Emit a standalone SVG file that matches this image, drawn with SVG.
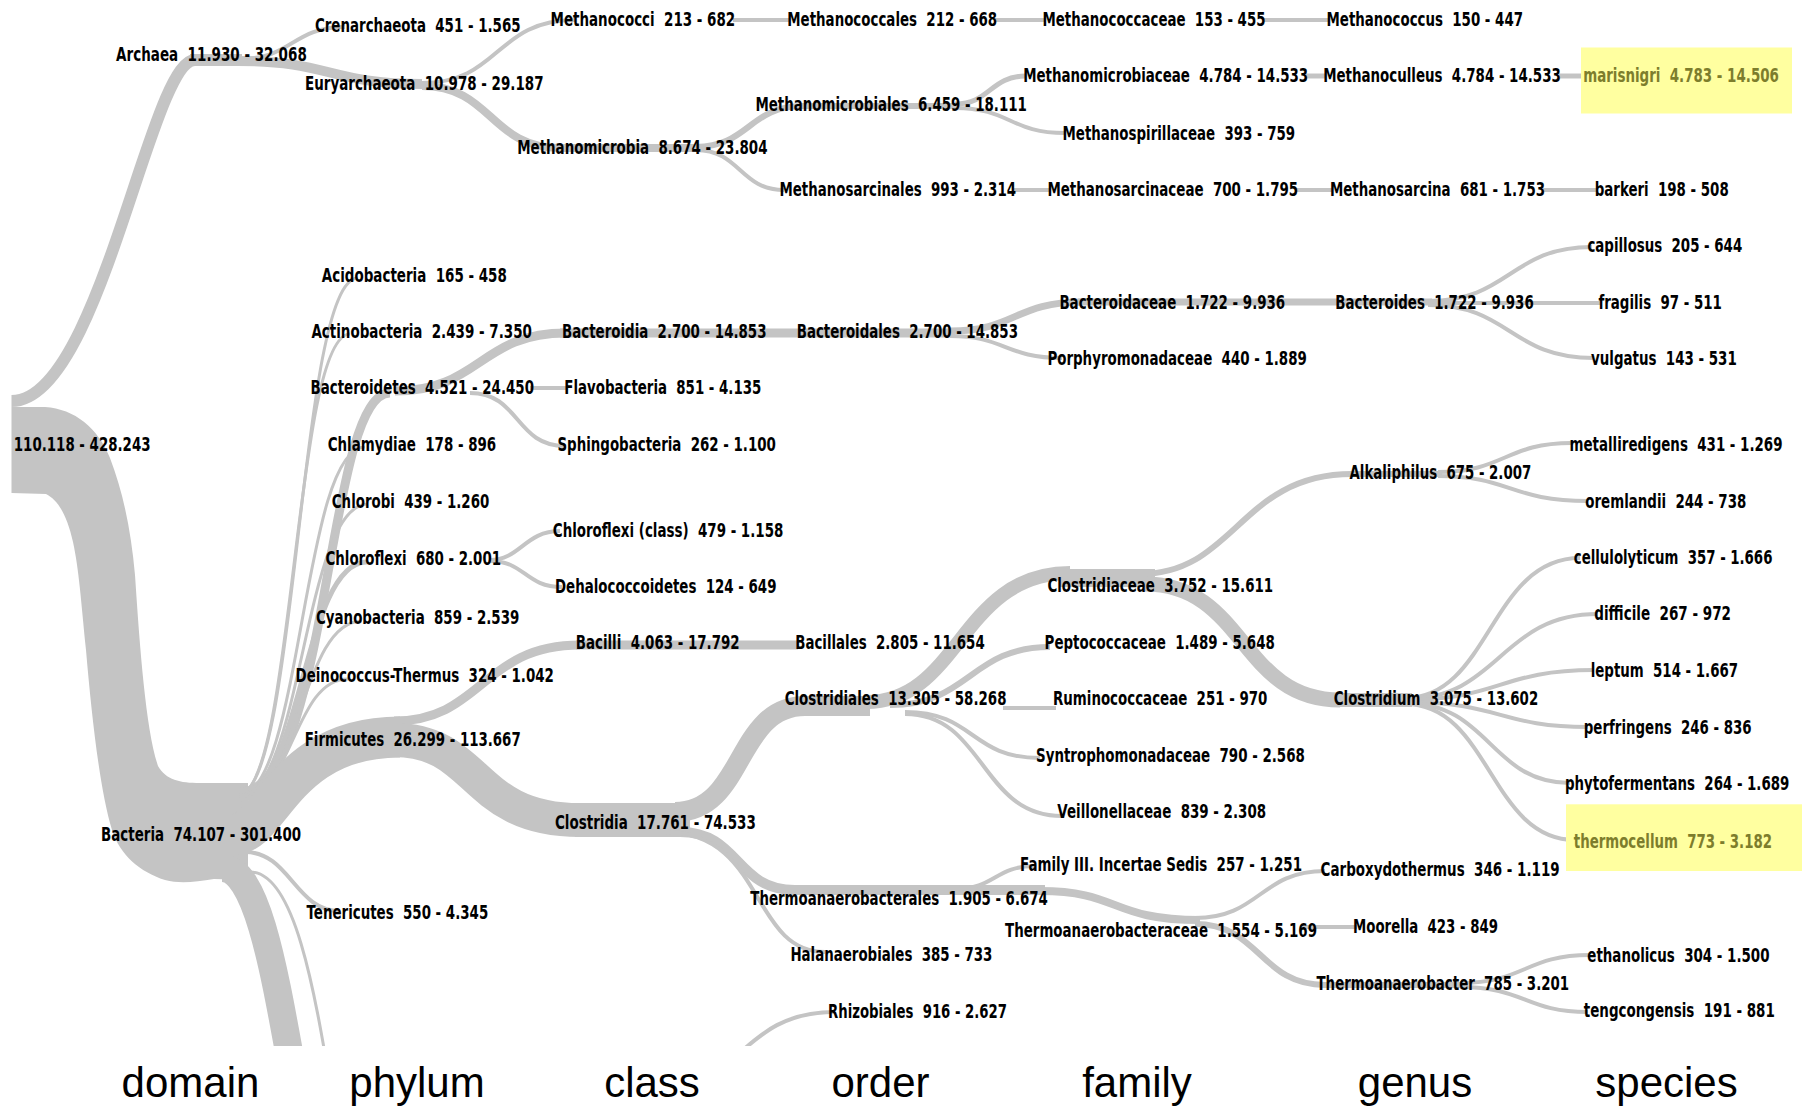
<svg xmlns="http://www.w3.org/2000/svg" width="1802" height="1107" viewBox="0 0 1802 1107">
<defs>
<clipPath id="clip"><rect x="0" y="0" width="1802" height="1046"/></clipPath>
<style>
.lk{fill:none;stroke:#c4c4c4;}
.fl{fill:#c4c4c4;stroke:none;}
.lb{font-family:"DejaVu Sans","DejaVu Sans Condensed",sans-serif;font-weight:bold;font-size:20px;fill:#000;}
.hl{fill:#7d7d2c;}
.box{fill:#ffffa0;}
.ax{font-family:"Liberation Sans",Arial,sans-serif;font-size:42px;fill:#000;text-anchor:middle;}
</style>
</defs>
<rect width="1802" height="1107" fill="#fff"/>
<g id="connectors" clip-path="url(#clip)">
<path class="fl" d="M11.5 407 L45 407 C75 409 98 428 110 458 C123 492 131 530 135 575 C140 650 146 730 158 766 C166 780 180 783 200 783 L248 783 L248 880 L214 879 C195 882 180 884 165 880 C140 872 120 855 112 830 C100 790 92 720 86 650 C81 600 79 570 73 542 C67 515 58 500 46 494 L11.5 493 Z"/>
<g class="lk">
<path d="M11.5 401 C100 401 150 60 195 60" stroke-width="12"/>
<path d="M190 60 L242 60" stroke-width="12"/>
<path d="M240 59 C292 59 292 27 345 27" stroke-width="4"/>
<path d="M238 61 C330 61 330 84 422 84" stroke-width="10"/>
<path d="M422 83 C500 83 495 20 575 20" stroke-width="4"/>
<path d="M422 86 C492 86 490 148 560 148" stroke-width="8"/>
<path d="M556 148 L700 148" stroke-width="8"/>
<path d="M696 147 C748 147 750 106 802 106" stroke-width="6"/>
<path d="M696 150 C740 150 740 190 784 190" stroke-width="4"/>
<path d="M800 106 L958 106" stroke-width="6"/>
<path d="M955 104 C990 104 990 76 1026 76" stroke-width="5"/>
<path d="M955 108 C1010 108 1010 133 1065 133" stroke-width="4"/>
<path d="M733 20 L790 20" stroke-width="4"/>
<path d="M995 20 L1045 20" stroke-width="4"/>
<path d="M1264 20 L1329 20" stroke-width="4"/>
<path d="M1306 76 L1326 76" stroke-width="5"/>
<path d="M1559 76 L1585 76" stroke-width="5"/>
<path d="M1014 190 L1050 190" stroke-width="4"/>
<path d="M1296 190 L1333 190" stroke-width="4"/>
<path d="M1543 190 L1597 190" stroke-width="4"/>

<path d="M238 795 C298 795 298 278 358 278" stroke-width="3"/>
<path d="M238 795 C294 795 294 334 350 334" stroke-width="3"/>
<path d="M240 792 C330 792 325 393 390 393" stroke-width="9"/>
<path d="M238 796 C302 796 302 447 365 447" stroke-width="3"/>
<path d="M238 797 C303 797 303 504 368 504" stroke-width="3"/>
<path d="M238 798 C302 798 302 562 367 562" stroke-width="5"/>
<path d="M238 799 C300 799 300 621 362 621" stroke-width="3"/>
<path d="M238 800 C293 800 293 679 348 679" stroke-width="3"/>
<path d="M232 835 C272 835 282 737 400 737" stroke-width="41"/>
<path d="M245 852 C290 852 295 911 340 911" stroke-width="4"/>
<path d="M222 868 C290 868 290 1250 360 1250" stroke-width="28"/>
<path d="M250 872 C330 872 330 1250 380 1250" stroke-width="3"/>

<path d="M395 391 C480 391 480 333 566 333" stroke-width="9"/>
<path d="M530 388 L568 388" stroke-width="4"/>
<path d="M470 393 C520 393 515 446 565 446" stroke-width="4"/>
<path d="M560 333 L955 333" stroke-width="9"/>
<path d="M950 331 C1015 331 1015 302 1082 302" stroke-width="7"/>
<path d="M950 336 C1005 336 1005 358 1062 358" stroke-width="4"/>
<path d="M1078 302 L1432 302" stroke-width="7"/>
<path d="M1428 301 C1510 301 1510 247 1592 247" stroke-width="4"/>
<path d="M1430 303 L1600 303" stroke-width="4"/>
<path d="M1428 305 C1510 305 1510 358 1594 358" stroke-width="4"/>

<path d="M490 560 C520 560 525 531 560 531" stroke-width="4"/>
<path d="M490 561 C525 561 525 587 562 587" stroke-width="4"/>

<path d="M394 721 C482 721 482 645 580 645" stroke-width="9"/>
<path d="M576 645 L798 645" stroke-width="9"/>
<path d="M394 740 C480 740 470 820 580 820" stroke-width="34"/>
<path d="M575 820 L690 820" stroke-width="34"/>
<path d="M675 812 C745 812 735 706 805 706" stroke-width="20"/>
<path d="M800 706 L870 706" stroke-width="20"/>
<path d="M866 702 C960 702 960 573 1070 573" stroke-width="14"/>
<path d="M1060 578 L1155 578" stroke-width="18"/>
<path d="M1140 574 C1235 574 1240 474 1352 474" stroke-width="6"/>
<path d="M1145 584 C1245 584 1240 700 1340 700" stroke-width="15"/>
<path d="M1336 700 L1412 700" stroke-width="14"/>
<path d="M1405 698 C1490 698 1490 558 1580 558" stroke-width="4"/>
<path d="M1405 699 C1500 699 1500 614 1598 614" stroke-width="4"/>
<path d="M1405 700 C1500 700 1500 670 1594 670" stroke-width="4"/>
<path d="M1405 702 C1500 702 1500 727 1588 727" stroke-width="4"/>
<path d="M1405 703 C1490 703 1490 783 1570 783" stroke-width="4"/>
<path d="M1405 704 C1490 704 1490 840 1575 840" stroke-width="4"/>
<path d="M1350 474 L1442 474" stroke-width="6"/>
<path d="M1438 472 C1505 472 1505 443 1572 443" stroke-width="4"/>
<path d="M1438 476 C1510 476 1510 501 1588 501" stroke-width="4"/>
<path d="M890 705 C970 705 970 647 1050 647" stroke-width="6"/>
<path d="M1003 708 L1056 708" stroke-width="4"/>
<path d="M905 712 C975 712 970 758 1040 758" stroke-width="4"/>
<path d="M905 714 C985 714 980 816 1062 816" stroke-width="4"/>

<path d="M680 832 C740 832 735 890 795 890" stroke-width="10"/>
<path d="M792 890 L1045 890" stroke-width="10"/>
<path d="M1040 891 C1120 891 1110 920 1200 920" stroke-width="8"/>
<path d="M955 889 C995 889 995 866 1035 866" stroke-width="4"/>
<path d="M1195 918 C1260 918 1260 871 1325 871" stroke-width="4"/>
<path d="M1300 927 L1357 927" stroke-width="4"/>
<path d="M1195 924 C1260 924 1260 985 1325 985" stroke-width="6"/>
<path d="M1320 985 L1465 985" stroke-width="6"/>
<path d="M1460 983 C1525 983 1525 955 1590 955" stroke-width="4"/>
<path d="M1460 987 C1525 987 1525 1012 1588 1012" stroke-width="4"/>
<path d="M665 832 C765 832 750 952 825 952" stroke-width="4"/>
<path d="M660 1090 C740 1090 740 1012 835 1012" stroke-width="4"/>
</g>
</g>

<g id="highlights">
<rect class="box" x="1581" y="47.5" width="211" height="66"/>
<rect class="box" x="1566" y="804.3" width="236" height="66.7"/>
</g>

<g id="nodes" class="lb">
<g id="n-root"><text x="13.8" y="450.5" textLength="136.7" lengthAdjust="spacingAndGlyphs">110.118 - 428.243</text></g>
<g id="n-archaea"><text x="116.1" y="61" textLength="190.7" lengthAdjust="spacingAndGlyphs">Archaea&#160; 11.930 - 32.068</text></g>
<g id="n-bacteria"><text x="101.1" y="841" textLength="200" lengthAdjust="spacingAndGlyphs">Bacteria&#160; 74.107 - 301.400</text></g>
<g id="n-crenarchaeota"><text x="314.9" y="32.3" textLength="205.7" lengthAdjust="spacingAndGlyphs">Crenarchaeota&#160; 451 - 1.565</text></g>
<g id="n-euryarchaeota"><text x="305" y="89.5" textLength="238.5" lengthAdjust="spacingAndGlyphs">Euryarchaeota&#160; 10.978 - 29.187</text></g>
<g id="n-acidobacteria"><text x="321.8" y="281.5" textLength="185" lengthAdjust="spacingAndGlyphs">Acidobacteria&#160; 165 - 458</text></g>
<g id="n-actinobacteria"><text x="311.4" y="337.5" textLength="220.5" lengthAdjust="spacingAndGlyphs">Actinobacteria&#160; 2.439 - 7.350</text></g>
<g id="n-bacteroidetes"><text x="310.5" y="394" textLength="223.5" lengthAdjust="spacingAndGlyphs">Bacteroidetes&#160; 4.521 - 24.450</text></g>
<g id="n-chlamydiae"><text x="327.7" y="450.5" textLength="168.5" lengthAdjust="spacingAndGlyphs">Chlamydiae&#160; 178 - 896</text></g>
<g id="n-chlorobi"><text x="331.8" y="508" textLength="157.5" lengthAdjust="spacingAndGlyphs">Chlorobi&#160; 439 - 1.260</text></g>
<g id="n-chloroflexi"><text x="325.5" y="565" textLength="175.5" lengthAdjust="spacingAndGlyphs">Chloroflexi&#160; 680 - 2.001</text></g>
<g id="n-cyanobacteria"><text x="316" y="624" textLength="203.3" lengthAdjust="spacingAndGlyphs">Cyanobacteria&#160; 859 - 2.539</text></g>
<g id="n-deinococcus"><text x="295.5" y="682.3" textLength="258.4" lengthAdjust="spacingAndGlyphs">Deinococcus-Thermus&#160; 324 - 1.042</text></g>
<g id="n-firmicutes"><text x="304.7" y="745.5" textLength="216" lengthAdjust="spacingAndGlyphs">Firmicutes&#160; 26.299 - 113.667</text></g>
<g id="n-tenericutes"><text x="306.5" y="919.2" textLength="181.7" lengthAdjust="spacingAndGlyphs">Tenericutes&#160; 550 - 4.345</text></g>
<g id="n-methanococci"><text x="550.5" y="26.4" textLength="184.7" lengthAdjust="spacingAndGlyphs">Methanococci&#160; 213 - 682</text></g>
<g id="n-methanomicrobia"><text x="517.2" y="154" textLength="250.3" lengthAdjust="spacingAndGlyphs">Methanomicrobia&#160; 8.674 - 23.804</text></g>
<g id="n-bacteroidia"><text x="562" y="337.8" textLength="204.5" lengthAdjust="spacingAndGlyphs">Bacteroidia&#160; 2.700 - 14.853</text></g>
<g id="n-flavobacteria"><text x="564.3" y="394" textLength="197" lengthAdjust="spacingAndGlyphs">Flavobacteria&#160; 851 - 4.135</text></g>
<g id="n-sphingobacteria"><text x="557.4" y="450.5" textLength="218.5" lengthAdjust="spacingAndGlyphs">Sphingobacteria&#160; 262 - 1.100</text></g>
<g id="n-chloroflexi-class"><text x="552.8" y="536.5" textLength="230.5" lengthAdjust="spacingAndGlyphs">Chloroflexi (class)&#160; 479 - 1.158</text></g>
<g id="n-dehalococcoidetes"><text x="555" y="592.5" textLength="221.5" lengthAdjust="spacingAndGlyphs">Dehalococcoidetes&#160; 124 - 649</text></g>
<g id="n-bacilli"><text x="575.7" y="649.3" textLength="164" lengthAdjust="spacingAndGlyphs">Bacilli&#160; 4.063 - 17.792</text></g>
<g id="n-clostridia"><text x="555" y="829" textLength="200.8" lengthAdjust="spacingAndGlyphs">Clostridia&#160; 17.761 - 74.533</text></g>
<g id="n-methanococcales"><text x="787.3" y="26.4" textLength="209.8" lengthAdjust="spacingAndGlyphs">Methanococcales&#160; 212 - 668</text></g>
<g id="n-methanomicrobiales"><text x="755.4" y="110.8" textLength="271.5" lengthAdjust="spacingAndGlyphs">Methanomicrobiales&#160; 6.459 - 18.111</text></g>
<g id="n-methanosarcinales"><text x="779.5" y="196" textLength="236.5" lengthAdjust="spacingAndGlyphs">Methanosarcinales&#160; 993 - 2.314</text></g>
<g id="n-bacteroidales"><text x="796.7" y="337.8" textLength="221.3" lengthAdjust="spacingAndGlyphs">Bacteroidales&#160; 2.700 - 14.853</text></g>
<g id="n-bacillales"><text x="795.2" y="649.3" textLength="189.5" lengthAdjust="spacingAndGlyphs">Bacillales&#160; 2.805 - 11.654</text></g>
<g id="n-clostridiales"><text x="784.7" y="705.3" textLength="221.8" lengthAdjust="spacingAndGlyphs">Clostridiales&#160; 13.305 - 58.268</text></g>
<g id="n-thermoanaerobacterales"><text x="750.3" y="904.7" textLength="297.6" lengthAdjust="spacingAndGlyphs">Thermoanaerobacterales&#160; 1.905 - 6.674</text></g>
<g id="n-halanaerobiales"><text x="790.4" y="961.3" textLength="202" lengthAdjust="spacingAndGlyphs">Halanaerobiales&#160; 385 - 733</text></g>
<g id="n-rhizobiales"><text x="828" y="1017.5" textLength="179" lengthAdjust="spacingAndGlyphs">Rhizobiales&#160; 916 - 2.627</text></g>
<g id="n-methanococcaceae"><text x="1042.5" y="26.4" textLength="223" lengthAdjust="spacingAndGlyphs">Methanococcaceae&#160; 153 - 455</text></g>
<g id="n-methanomicrobiaceae"><text x="1023.2" y="82.2" textLength="285" lengthAdjust="spacingAndGlyphs">Methanomicrobiaceae&#160; 4.784 - 14.533</text></g>
<g id="n-methanospirillaceae"><text x="1062.5" y="139.5" textLength="232.6" lengthAdjust="spacingAndGlyphs">Methanospirillaceae&#160; 393 - 759</text></g>
<g id="n-methanosarcinaceae"><text x="1047.4" y="196" textLength="250.8" lengthAdjust="spacingAndGlyphs">Methanosarcinaceae&#160; 700 - 1.795</text></g>
<g id="n-bacteroidaceae"><text x="1059.4" y="309" textLength="225.8" lengthAdjust="spacingAndGlyphs">Bacteroidaceae&#160; 1.722 - 9.936</text></g>
<g id="n-porphyromonadaceae"><text x="1047.4" y="364.5" textLength="259.4" lengthAdjust="spacingAndGlyphs">Porphyromonadaceae&#160; 440 - 1.889</text></g>
<g id="n-clostridiaceae"><text x="1047.4" y="591.7" textLength="225.7" lengthAdjust="spacingAndGlyphs">Clostridiaceae&#160; 3.752 - 15.611</text></g>
<g id="n-peptococcaceae"><text x="1044.6" y="649.3" textLength="230.2" lengthAdjust="spacingAndGlyphs">Peptococcaceae&#160; 1.489 - 5.648</text></g>
<g id="n-ruminococcaceae"><text x="1053" y="705.3" textLength="214.4" lengthAdjust="spacingAndGlyphs">Ruminococcaceae&#160; 251 - 970</text></g>
<g id="n-syntrophomonadaceae"><text x="1036" y="761.5" textLength="268.8" lengthAdjust="spacingAndGlyphs">Syntrophomonadaceae&#160; 790 - 2.568</text></g>
<g id="n-veillonellaceae"><text x="1057.3" y="818.2" textLength="208.8" lengthAdjust="spacingAndGlyphs">Veillonellaceae&#160; 839 - 2.308</text></g>
<g id="n-family-iii"><text x="1020" y="870.5" textLength="282" lengthAdjust="spacingAndGlyphs">Family III. Incertae Sedis&#160; 257 - 1.251</text></g>
<g id="n-thermoanaerobacteraceae"><text x="1005" y="937.3" textLength="312" lengthAdjust="spacingAndGlyphs">Thermoanaerobacteraceae&#160; 1.554 - 5.169</text></g>
<g id="n-methanococcus"><text x="1326.5" y="26.4" textLength="196.5" lengthAdjust="spacingAndGlyphs">Methanococcus&#160; 150 - 447</text></g>
<g id="n-methanoculleus"><text x="1323.2" y="82.2" textLength="237.6" lengthAdjust="spacingAndGlyphs">Methanoculleus&#160; 4.784 - 14.533</text></g>
<g id="n-methanosarcina"><text x="1330" y="196" textLength="215" lengthAdjust="spacingAndGlyphs">Methanosarcina&#160; 681 - 1.753</text></g>
<g id="n-bacteroides"><text x="1335.3" y="309" textLength="198.4" lengthAdjust="spacingAndGlyphs">Bacteroides&#160; 1.722 - 9.936</text></g>
<g id="n-alkaliphilus"><text x="1349.5" y="478.7" textLength="181.8" lengthAdjust="spacingAndGlyphs">Alkaliphilus&#160; 675 - 2.007</text></g>
<g id="n-clostridium"><text x="1333.8" y="705.3" textLength="204.4" lengthAdjust="spacingAndGlyphs">Clostridium&#160; 3.075 - 13.602</text></g>
<g id="n-carboxydothermus"><text x="1320.6" y="876" textLength="239" lengthAdjust="spacingAndGlyphs">Carboxydothermus&#160; 346 - 1.119</text></g>
<g id="n-moorella"><text x="1353" y="932.8" textLength="145" lengthAdjust="spacingAndGlyphs">Moorella&#160; 423 - 849</text></g>
<g id="n-thermoanaerobacter"><text x="1316.5" y="989.5" textLength="252.6" lengthAdjust="spacingAndGlyphs">Thermoanaerobacter&#160; 785 - 3.201</text></g>
<g id="n-marisnigri"><text class="hl" x="1583.2" y="82.2" textLength="195.7" lengthAdjust="spacingAndGlyphs">marisnigri&#160; 4.783 - 14.506</text></g>
<g id="n-barkeri"><text x="1594.7" y="196" textLength="134" lengthAdjust="spacingAndGlyphs">barkeri&#160; 198 - 508</text></g>
<g id="n-capillosus"><text x="1587.4" y="252.3" textLength="154.8" lengthAdjust="spacingAndGlyphs">capillosus&#160; 205 - 644</text></g>
<g id="n-fragilis"><text x="1598.4" y="309" textLength="123.5" lengthAdjust="spacingAndGlyphs">fragilis&#160; 97 - 511</text></g>
<g id="n-vulgatus"><text x="1591" y="365" textLength="145.8" lengthAdjust="spacingAndGlyphs">vulgatus&#160; 143 - 531</text></g>
<g id="n-metalliredigens"><text x="1569.5" y="450.5" textLength="213" lengthAdjust="spacingAndGlyphs">metalliredigens&#160; 431 - 1.269</text></g>
<g id="n-oremlandii"><text x="1585.3" y="507.5" textLength="161" lengthAdjust="spacingAndGlyphs">oremlandii&#160; 244 - 738</text></g>
<g id="n-cellulolyticum"><text x="1573.8" y="564" textLength="198.6" lengthAdjust="spacingAndGlyphs">cellulolyticum&#160; 357 - 1.666</text></g>
<g id="n-difficile"><text x="1594.3" y="620.3" textLength="136.7" lengthAdjust="spacingAndGlyphs">difficile&#160; 267 - 972</text></g>
<g id="n-leptum"><text x="1590.7" y="676.8" textLength="147.4" lengthAdjust="spacingAndGlyphs">leptum&#160; 514 - 1.667</text></g>
<g id="n-perfringens"><text x="1583.8" y="733.8" textLength="167.8" lengthAdjust="spacingAndGlyphs">perfringens&#160; 246 - 836</text></g>
<g id="n-phytofermentans"><text x="1565" y="790.3" textLength="224.3" lengthAdjust="spacingAndGlyphs">phytofermentans&#160; 264 - 1.689</text></g>
<g id="n-thermocellum"><text class="hl" x="1573.8" y="848" textLength="198.2" lengthAdjust="spacingAndGlyphs">thermocellum&#160; 773 - 3.182</text></g>
<g id="n-ethanolicus"><text x="1587.3" y="961.7" textLength="182.2" lengthAdjust="spacingAndGlyphs">ethanolicus&#160; 304 - 1.500</text></g>
<g id="n-tengcongensis"><text x="1583.8" y="1017.4" textLength="191" lengthAdjust="spacingAndGlyphs">tengcongensis&#160; 191 - 881</text></g>
</g>

<g id="axis" class="ax">
<text x="190.5" y="1097">domain</text>
<text x="417" y="1097">phylum</text>
<text x="652" y="1097">class</text>
<text x="880.5" y="1097">order</text>
<text x="1137" y="1097">family</text>
<text x="1415" y="1097">genus</text>
<text x="1666.5" y="1097">species</text>
</g>
</svg>
